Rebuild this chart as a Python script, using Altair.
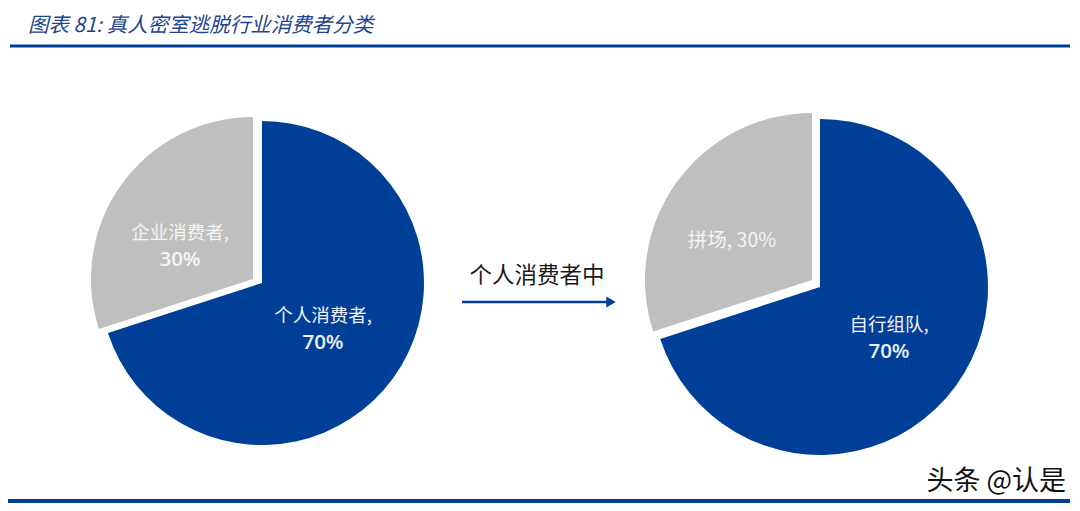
import altair as alt
import pandas as pd

# ---- data ----
title_text = "图表 81:  真人密室逃脱行业消费者分类"
pie1_names = ["个人消费者", "企业消费者"]
pie1_values = [70, 30]
pie2_names = ["自行组队", "拼场"]
pie2_values = [70, 30]
arrow_text = "个人消费者中"
watermark = "头条 @认是"

BLUE = "#003F98"
GRAY = "#BFBFBF"
CJK = "Noto Sans CJK SC"


def pie_df(names, values):
    starts, ends, acc = [], [], 0
    for v in values:
        starts.append(acc)
        acc += v
        ends.append(acc)
    return pd.DataFrame({
        "name": names, "value": values, "start": starts, "end": ends,
        "namelabel": [n + "," for n in names],
        "pct": [f"{v}%" for v in values],
        "full": [f"{n}, {v}%" for n, v in zip(names, values)],
    })


d1 = pie_df(pie1_names, pie1_values)
d2 = pie_df(pie2_names, pie2_values)
one = pd.DataFrame({"t": [title_text], "a": [arrow_text], "w": [watermark]})

theta_scale = alt.Scale(domain=[0, 100], range=[0, 6.283185307])


def slice_layer(df, name, cx, cy, r, color):
    return alt.Chart(df).transform_filter(alt.datum.name == name).mark_arc(
        outerRadius=r, color=color
    ).encode(
        theta=alt.Theta("start:Q", scale=theta_scale),
        theta2="end:Q",
        x=alt.value(cx), y=alt.value(cy),
    )


def label2(df, name, cx, cy, color, gap=27):
    base = alt.Chart(df).transform_filter(alt.datum.name == name)
    a = base.mark_text(font=CJK, fontSize=18.5, color=color, baseline="middle").encode(
        text="namelabel:N", x=alt.value(cx), y=alt.value(cy - gap / 2))
    b = base.mark_text(font="Open Sans", fontSize=20.5, fontWeight=600, color=color,
                       baseline="middle").encode(
        text="pct:N", x=alt.value(cx), y=alt.value(cy + gap / 2))
    return a + b


layers = []
# left pie
layers.append(slice_layer(d1, pie1_names[0], 254, 275, 162, BLUE))
layers.append(slice_layer(d1, pie1_names[1], 245, 271, 162, GRAY))
# right pie
layers.append(slice_layer(d2, pie2_names[0], 812, 279, 168, BLUE))
layers.append(slice_layer(d2, pie2_names[1], 804, 272, 167, GRAY))

# labels
layers.append(label2(d1, pie1_names[1], 172, 238.5, "#F4F4F4"))
layers.append(label2(d1, pie1_names[0], 315, 321, "#EEF1F8"))
layers.append(label2(d2, pie2_names[0], 881, 330.5, "#EEF1F8"))
layers.append(
    alt.Chart(d2).transform_filter(alt.datum.name == pie2_names[1]).mark_text(
        font=CJK, fontSize=19.5, color="#F4F4F4", baseline="middle"
    ).encode(text="full:N", x=alt.value(724), y=alt.value(233))
)

# title and rules
layers.append(alt.Chart(one).mark_text(
    font=CJK, fontSize=20.5, fontStyle="italic", color="#1F4591", align="left",
    baseline="alphabetic").encode(text="t:N", x=alt.value(20), y=alt.value(24)))
layers.append(alt.Chart(one).mark_rule(color=BLUE, strokeWidth=3).encode(
    x=alt.value(2), x2=alt.value(1062), y=alt.value(38)))
layers.append(alt.Chart(one).mark_rule(color=BLUE, strokeWidth=4).encode(
    x=alt.value(-2), x2=alt.value(1062), y=alt.value(493)))

# arrow
layers.append(alt.Chart(one).mark_text(
    font=CJK, fontSize=22.5, color="#1a1a1a", baseline="middle").encode(
    text="a:N", x=alt.value(529), y=alt.value(268)))
layers.append(alt.Chart(one).mark_rule(color=BLUE, strokeWidth=2.5).encode(
    x=alt.value(454), x2=alt.value(600), y=alt.value(294)))
layers.append(alt.Chart(one).mark_point(
    shape="triangle-right", filled=True, color=BLUE, size=120, opacity=1).encode(
    x=alt.value(603), y=alt.value(294)))

# watermark
layers.append(alt.Chart(one).mark_text(
    font=CJK, fontSize=27, color="#111111", align="right", baseline="middle").encode(
    text="w:N", x=alt.value(1058), y=alt.value(474)))

chart = alt.layer(*layers).properties(
    width=1064, height=495, autosize=alt.AutoSizeParams(type="none"), padding=0
).configure_view(stroke=None)

chart.save("out.html", embed_options={"renderer": "svg", "actions": False})
